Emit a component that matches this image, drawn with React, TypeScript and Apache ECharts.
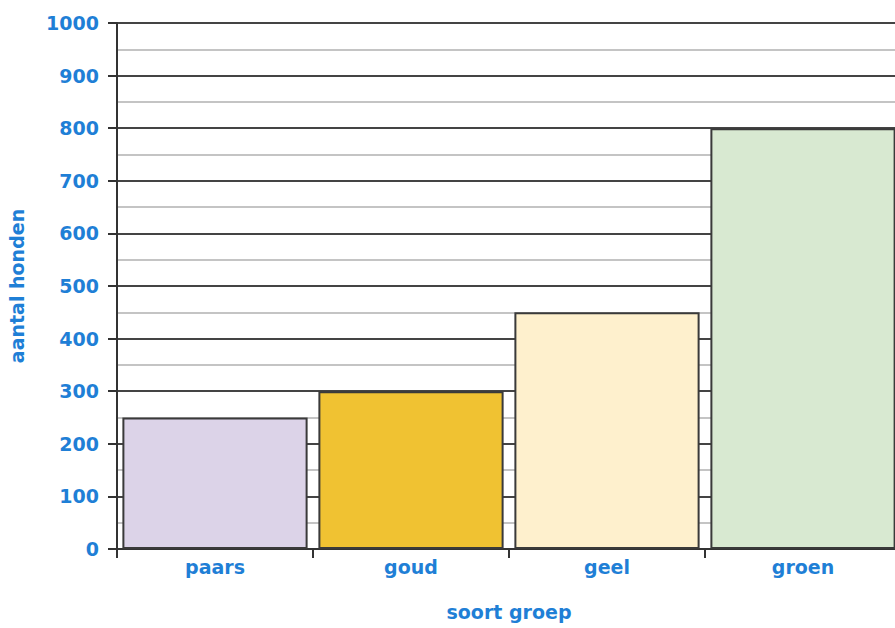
import React, { useEffect, useRef } from "react";
import * as echarts from "echarts";

const categories = ["paars", "goud", "geel", "groen"];
const values = [250, 300, 450, 800];
const barColors = ["#dcd3e8", "#f0c232", "#fef0cd", "#d8e9d1"];
const yName = "aantal honden";
const xName = "soort groep";

const BLUE = "#1f7fd6";
const FONT = "DejaVu Sans";

export default function App() {
  const ref = useRef<HTMLDivElement>(null);
  useEffect(() => {
    if (!ref.current) return;
    const chart = echarts.init(ref.current, null, { renderer: "svg" });
    chart.setOption({
      animation: false,
      backgroundColor: "#ffffff",
      grid: {
        left: 117,
        top: 23,
        width: 784,
        height: 526,
        containLabel: false,
        outerBoundsMode: "none",
      },
      xAxis: {
        type: "category",
        data: categories,
        name: xName,
        nameLocation: "middle",
        nameGap: 53,
        nameTextStyle: { color: BLUE, fontFamily: FONT, fontSize: 19, fontWeight: "bold" },
        axisLine: { show: true, lineStyle: { color: "#333", width: 2 } },
        axisTick: { show: true, length: 9, lineStyle: { color: "#333", width: 2 } },
        axisLabel: { color: BLUE, fontFamily: FONT, fontSize: 19, fontWeight: "bold", margin: 8 },
        splitLine: { show: false },
      },
      yAxis: {
        type: "value",
        min: 0,
        max: 1000,
        interval: 100,
        name: yName,
        nameLocation: "middle",
        nameGap: 91,
        nameRotate: 90,
        nameTextStyle: { color: BLUE, fontFamily: FONT, fontSize: 19, fontWeight: "bold" },
        axisLine: { show: true, lineStyle: { color: "#333", width: 2 } },
        axisTick: { show: true, length: 9, lineStyle: { color: "#333", width: 2 } },
        axisLabel: {
          color: BLUE,
          fontFamily: FONT,
          fontSize: 19,
          fontWeight: "bold",
          margin: 18,
          formatter: (v: number) => String(v),
        },
        splitLine: { show: true, lineStyle: { color: "#444", width: 2 } },
        minorTick: { show: false, splitNumber: 2 },
        minorSplitLine: { show: true, lineStyle: { color: "#c4c4c4", width: 2 } },
      },
      series: [
        {
          type: "bar",
          barWidth: "94.5%",
          data: values.map((v, i) => ({
            value: v,
            itemStyle: { color: barColors[i], borderColor: "#3a3a3a", borderWidth: 2 },
          })),
        },
      ],
    });
    return () => chart.dispose();
  }, []);
  return (
    <div
      ref={ref}
      style={{ position: "fixed", left: 0, top: 0, width: 905, height: 628, background: "#fff" }}
    />
  );
}
